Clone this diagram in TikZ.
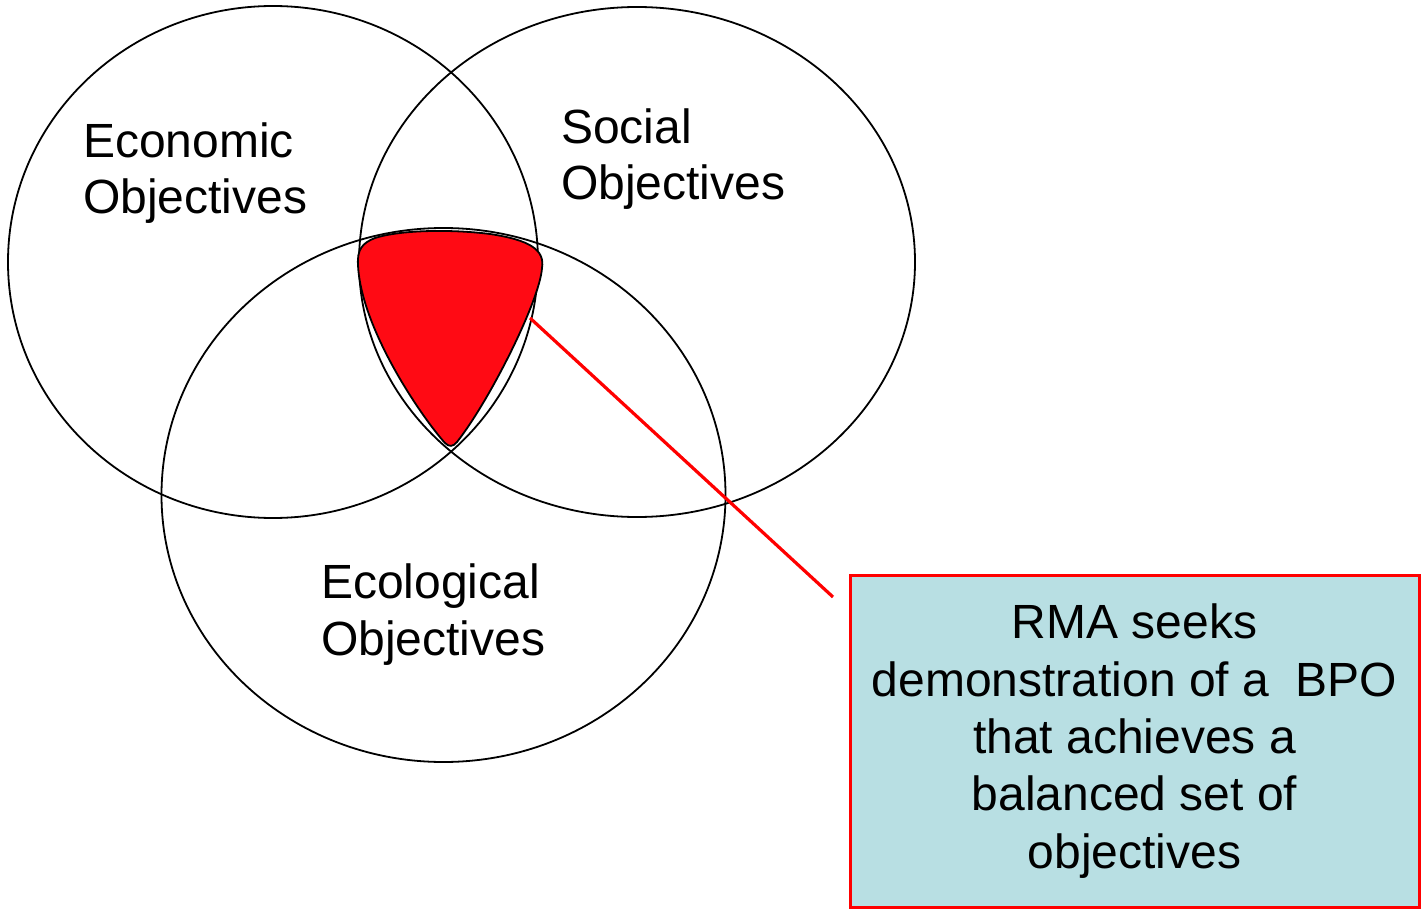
\documentclass[tikz,border=0pt]{standalone}
\usepackage{fontspec}
\setmainfont{Liberation Sans}
\definecolor{boxfill}{RGB}{184,223,227}
\definecolor{redfill}{RGB}{255,10,20}
\tikzset{
  venn/.style={draw=black, line width=1.8pt},
  lbl/.style={font=\fontsize{48}{56.5}\selectfont, align=left, inner sep=0pt, anchor=base west},
  callout/.style={draw=red, line width=3pt, fill=boxfill, minimum width=569pt, minimum height=332pt,
     font=\fontsize{48}{57.3}\selectfont, align=center, inner sep=0pt},
  leader/.style={draw=red, line width=3.2pt}
}
\begin{document}
\begin{tikzpicture}[x=1pt,y=-1pt]
\useasboundingbox (0,0) rectangle (1422,912);
\fill[white] (0,0) rectangle (1422,912);
% circles
\draw[venn] (273,262) ellipse [x radius=265pt, y radius=256pt];
\draw[venn] (637,262) ellipse [x radius=278pt, y radius=255pt];
\draw[venn] (443.5,495) ellipse [x radius=282pt, y radius=267pt];
% central region
\draw[fill=redfill, draw=black, line width=1.8pt]
  (358,265) .. controls (361,330) and (424,420) .. (445,443)
  .. controls (449,447) and (453,447) .. (457,442)
  .. controls (490,400) and (540,300) .. (542,268)
  .. controls (545,250) and (530,240) .. (490,234)
  .. controls (450,229) and (400,230) .. (375,238)
  .. controls (362,243) and (357,250) .. (358,265) -- cycle;
% labels
\node[lbl] (eco) at (83,214) {Economic\\Objectives};
\node[lbl] (soc) at (561,200) {Social\\Objectives};
\node[lbl] (ecl) at (321,655) {Ecological\\Objectives};
% callout
\node[callout] (box) at (1134.5,741) {RMA seeks\\demonstration of a~~BPO\\that achieves a\\balanced set of\\objectives};
\coordinate (from) at (530,318);
\coordinate (to) at (833,597);
\draw[leader] (from) -- (to);
\end{tikzpicture}
\end{document}
